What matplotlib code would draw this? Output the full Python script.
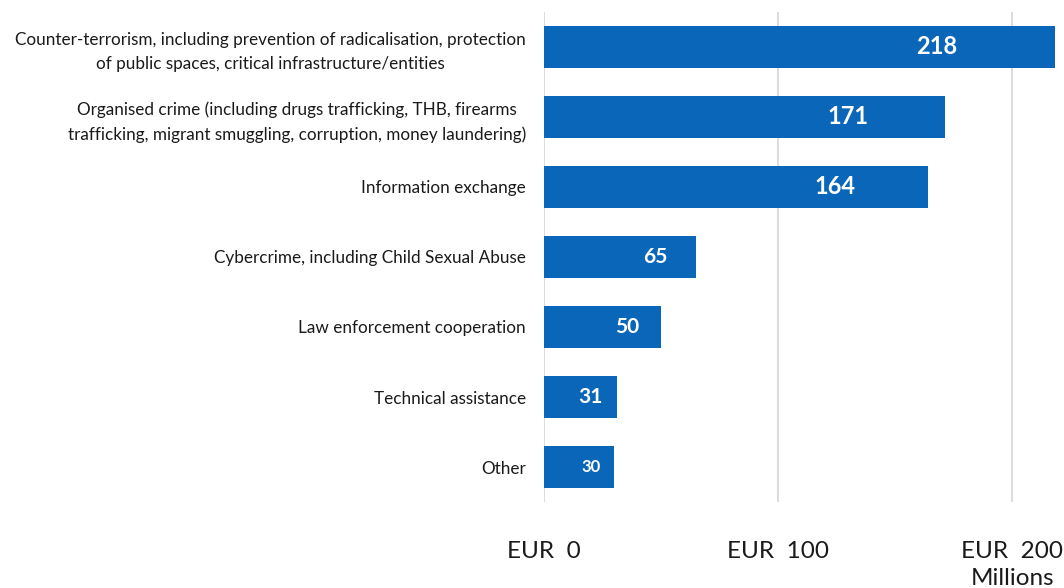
import matplotlib.pyplot as plt
import matplotlib.transforms as mtrans

# data (EUR millions)
categories = [
    "Counter-terrorism, including prevention of radicalisation, protection\nof public spaces, critical infrastructure/entities",
    "Organised crime (including drugs trafficking, THB, firearms\ntrafficking, migrant smuggling, corruption, money laundering)",
    "Information exchange",
    "Cybercrime, including Child Sexual Abuse",
    "Law enforcement cooperation",
    "Technical assistance",
    "Other",
]
values = [218, 171, 164, 65, 50, 31, 30]
tick_values = [0, 100, 200]
tick_labels = ["EUR  0", "EUR  100", "EUR  200"]

# value label sizes (style only)
label_sizes = [17, 17, 17, 15, 15, 15, 12]

plt.rcParams['font.family'] = ['Lato', 'DejaVu Sans']

fig = plt.figure(figsize=(10.64, 5.88), dpi=100)
ax = fig.add_axes([544 / 1064, 1 - 502 / 588, 1 - 544 / 1064, (502 - 12) / 588])

bar_color = '#0a66b9'
pos = list(range(len(categories)))
ax.barh(pos, values, height=0.6, color=bar_color, zorder=2)

# white labels inside the bars
for p, v, s in zip(pos, values, label_sizes):
    ax.text(v * 0.81, p, str(v), ha='right', va='center', color='white',
            fontsize=s, fontweight='bold', zorder=3)

ax.set_xlim(0, 222)
ax.set_ylim(len(categories) - 0.5, -0.5)

ax.set_yticks(pos)
ax.set_yticklabels(categories, fontsize=12.3, color='#1a1a1a', multialignment='center',
                   linespacing=1.55)
ax.set_xticks(tick_values)
ax.set_xticklabels(tick_labels, fontsize=17.5, color='#1a1a1a')
ax.tick_params(axis='y', length=0, pad=13)
ax.tick_params(axis='x', length=0, pad=28)

ax.grid(axis='x', color='#d9d9d9', linewidth=1.3, zorder=0)
ax.grid(axis='y', visible=False)
for sp in ax.spines.values():
    sp.set_visible(False)

# units note under the last tick
trans = mtrans.blended_transform_factory(ax.transData, fig.transFigure)
ax.text(200, 3 / 588, "Millions", transform=trans, ha='center', va='baseline',
        fontsize=17.5, color='#1a1a1a', clip_on=False)

fig.savefig('out.png', dpi=100)
